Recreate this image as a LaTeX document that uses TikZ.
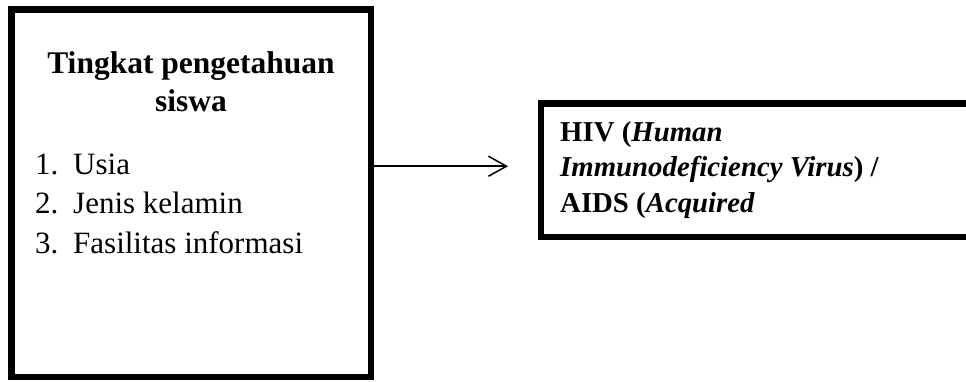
\documentclass[tikz,border=0pt]{standalone}
\usepackage{fontspec}
\setmainfont{Liberation Serif}
\usetikzlibrary{arrows.meta}
\begin{document}
\begin{tikzpicture}[x=1pt,y=-1pt,
  thickbox/.style={draw=black,line width=6.5pt,inner sep=0pt,fill=none},
  bigtxt/.style={font=\fontsize{31}{38}\selectfont,inner sep=0pt,anchor=base west},
  smalltxt/.style={font=\fontsize{28.8}{35}\selectfont\bfseries,inner sep=0pt,anchor=base west}]
\useasboundingbox (0,0) rectangle (966,382);
\clip (0,0) rectangle (966,382);
\node[thickbox,minimum width=359.5pt,minimum height=367.5pt] (lbox) at (191.25,193.25) {};
\node[thickbox,minimum width=500pt,minimum height=133pt,anchor=north west] (rbox) at (537.5,100.5) {};
% left texts
\node[bigtxt,anchor=base,font=\fontsize{31.5}{38}\selectfont\bfseries] (t1) at (191,74) {Tingkat pengetahuan};
\node[bigtxt,anchor=base,font=\fontsize{31.5}{38}\selectfont\bfseries] (t2) at (191,112) {siswa};
\node[bigtxt] (n1) at (35,175) {1.};
\node[bigtxt] (i1) at (73,175) {Usia};
\node[bigtxt] (n2) at (35,214) {2.};
\node[bigtxt] (i2) at (73,214) {Jenis kelamin};
\node[bigtxt] (n3) at (35,253) {3.};
\node[bigtxt] (i3) at (73,253) {Fasilitas informasi};
% right texts
\node[smalltxt] (r1) at (560,142) {HIV (\textit{Human}};
\node[smalltxt] (r2) at (560,177) {\textit{Immunodeficiency Virus}) /};
\node[smalltxt] (r3) at (560,212) {AIDS (\textit{Acquired}};
% arrow
\draw[line width=1.5pt,-{Straight Barb[length=18pt,width=20pt,line width=1.5pt]},shorten >=29.5pt]
  ([yshift=4pt]lbox.east |- rbox.west) -- ([yshift=4pt]rbox.west);
\end{tikzpicture}
\end{document}
